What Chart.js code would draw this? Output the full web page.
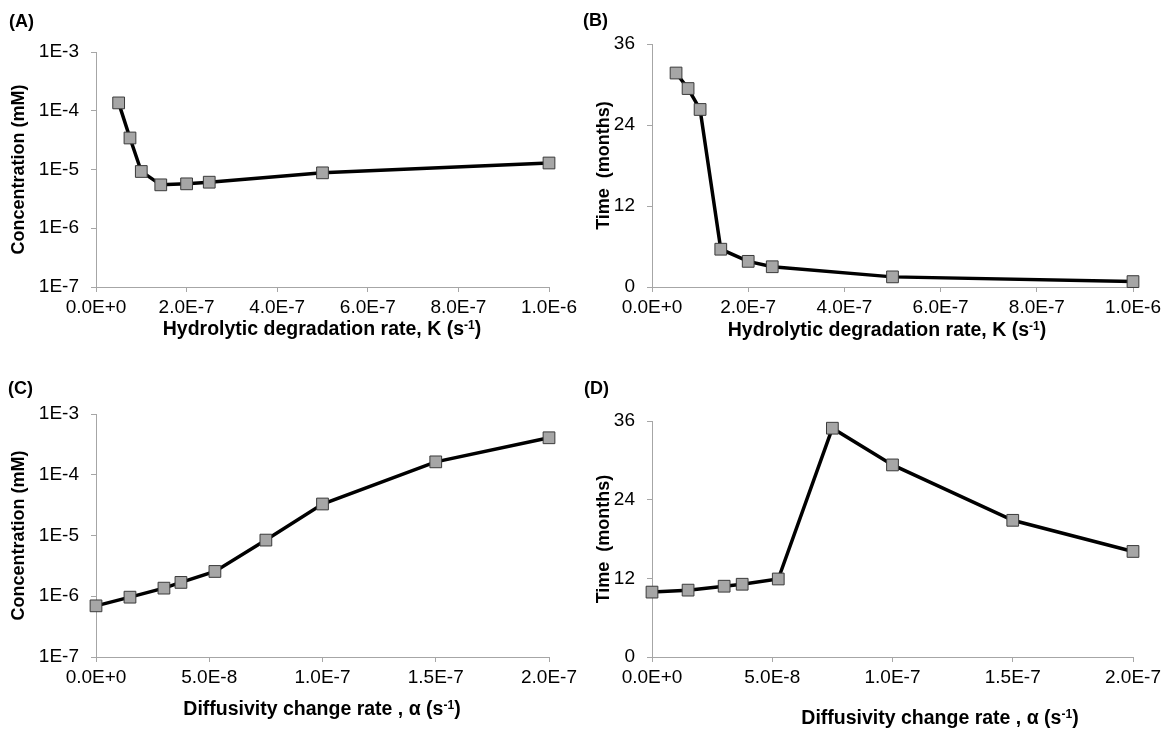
<!DOCTYPE html>
<html>
<head>
<meta charset="utf-8">
<script src="https://cdn.jsdelivr.net/npm/chart.js@4/dist/chart.umd.min.js"></script>
<style>
  html, body { margin:0; padding:0; background:#fff; }
  #wrap { position:relative; width:1169px; height:732px; overflow:hidden; background:#fff; }
  canvas { position:absolute; left:0; top:0; }
  .lbl { position:absolute; font-family:'Liberation Sans', Arial, sans-serif; font-weight:bold; color:#000; white-space:nowrap; line-height:1; }
  .xt { transform:translate(-50%,-50%); font-size:19.5px; }
  .pl { transform:translateY(-50%); font-size:18px; }
  sup { font-size:0.62em; vertical-align:0.55em; line-height:0; }
</style>
</head>
<body>
<div id="wrap">
  <canvas id="cA" width="1169" height="732"></canvas>
  <canvas id="cB" width="1169" height="732"></canvas>
  <canvas id="cC" width="1169" height="732"></canvas>
  <canvas id="cD" width="1169" height="732"></canvas>
  <div class="lbl pl" style="left:9px;top:21px;">(A)</div>
  <div class="lbl pl" style="left:583px;top:20px;">(B)</div>
  <div class="lbl pl" style="left:8px;top:388px;">(C)</div>
  <div class="lbl pl" style="left:584px;top:388px;">(D)</div>
  <div class="lbl xt" style="left:322px;top:329px;">Hydrolytic degradation rate, K (s<sup>-1</sup>)</div>
  <div class="lbl xt" style="left:887px;top:330px;">Hydrolytic degradation rate, K (s<sup>-1</sup>)</div>
  <div class="lbl xt" style="left:322px;top:709px;">Diffusivity change rate , α (s<sup>-1</sup>)</div>
  <div class="lbl xt" style="left:940px;top:718px;">Diffusivity change rate , α (s<sup>-1</sup>)</div>
</div>
<script>
// ---- data ----
const kRates = [5e-8, 7.5e-8, 1e-7, 1.43e-7, 2e-7, 2.5e-7, 5e-7, 1e-6];
const concA = [1.36e-4, 3.44e-5, 9.25e-6, 5.48e-6, 5.7e-6, 6.08e-6, 8.77e-6, 1.29e-5];
const timeB = [31.7, 29.4, 26.3, 5.6, 3.8, 3.0, 1.5, 0.8];

const alphaRates = [0, 1.5e-8, 3e-8, 3.75e-8, 5.25e-8, 7.5e-8, 1e-7, 1.5e-7, 2e-7];
const concC = [6.95e-7, 9.66e-7, 1.36e-6, 1.69e-6, 2.56e-6, 8.4e-6, 3.3e-5, 1.63e-4, 4.06e-4];
const timeD = [9.9, 10.2, 10.8, 11.1, 11.9, 34.9, 29.3, 20.85, 16.1];

const xTicksK = [0, 2e-7, 4e-7, 6e-7, 8e-7, 1e-6];
const xTickLabelsK = ['0.0E+0', '2.0E-7', '4.0E-7', '6.0E-7', '8.0E-7', '1.0E-6'];
const xTicksAlpha = [0, 5e-8, 1e-7, 1.5e-7, 2e-7];
const xTickLabelsAlpha = ['0.0E+0', '5.0E-8', '1.0E-7', '1.5E-7', '2.0E-7'];
const yTicksConc = [1e-7, 1e-6, 1e-5, 1e-4, 1e-3];
const yTickLabelsConc = ['1E-7', '1E-6', '1E-5', '1E-4', '1E-3'];
const yTicksTime = [0, 12, 24, 36];
const yTickLabelsTime = ['0', '12', '24', '36'];

const yTitleConc = 'Concentration (mM)';
const yTitleTime = 'Time  (months)';

// ---- styling ----
const FONT = "'Liberation Sans', Arial, sans-serif";
const AXIS_COLOR = '#a6a6a6';
const W = 1169, H = 732;
const Y_TITLE_SIZE = 18;

function makeChart(id, xs, ys, xTicks, xLabels, yTicks, yLabels, yType, yTitle, box) {
  const titleLH = Y_TITLE_SIZE * 1.2;
  const yAxisLeft = box.titleX - titleLH / 2;
  const yAxisW = box.left - yAxisLeft;
  const xAxisH = 40;
  new Chart(document.getElementById(id), {
    type: 'scatter',
    data: {
      datasets: [{
        data: xs.map((x, i) => ({ x: x, y: ys[i] })),
        showLine: true,
        borderColor: '#000',
        borderWidth: 3.5,
        tension: 0,
        pointStyle: 'rect',
        pointRadius: 8.3,
        pointHoverRadius: 8.3,
        pointBackgroundColor: '#a6a6a6',
        pointBorderColor: '#3a3a3a',
        pointBorderWidth: 1,
        clip: false
      }]
    },
    options: {
      responsive: false,
      animation: false,
      devicePixelRatio: 1,
      events: [],
      layout: {
        padding: { left: yAxisLeft, top: box.top, right: W - box.right, bottom: H - box.bottom - xAxisH }
      },
      plugins: { legend: { display: false }, tooltip: { enabled: false } },
      scales: {
        x: {
          type: 'linear',
          min: xTicks[0],
          max: xTicks[xTicks.length - 1],
          afterBuildTicks: s => { s.ticks = xTicks.map(v => ({ value: v })); },
          afterFit: s => { s.height = xAxisH; },
          ticks: {
            callback: (v, i) => xLabels[i],
            font: { family: FONT, size: 19 },
            color: '#000',
            padding: 4,
            maxRotation: 0,
            autoSkip: false
          },
          grid: { drawOnChartArea: false, drawTicks: true, tickLength: 5, color: AXIS_COLOR, lineWidth: 1 },
          border: { color: AXIS_COLOR, width: 1 }
        },
        y: {
          type: yType,
          min: yTicks[0],
          max: yTicks[yTicks.length - 1],
          afterBuildTicks: s => { s.ticks = yTicks.map(v => ({ value: v })); },
          afterFit: s => { s.width = yAxisW; },
          ticks: {
            callback: (v, i) => yLabels[i],
            font: { family: FONT, size: 19 },
            color: '#000',
            padding: 12,
            autoSkip: false
          },
          grid: { drawOnChartArea: false, drawTicks: true, tickLength: 5, color: AXIS_COLOR, lineWidth: 1 },
          border: { color: AXIS_COLOR, width: 1 },
          title: {
            display: true,
            text: yTitle,
            font: { family: FONT, size: Y_TITLE_SIZE, weight: 'bold' },
            color: '#000',
            padding: { top: 0, bottom: 0 }
          }
        }
      }
    }
  });
}

makeChart('cA', kRates, concA, xTicksK, xTickLabelsK, yTicksConc, yTickLabelsConc, 'logarithmic', yTitleConc,
  { left: 96, right: 549, top: 52, bottom: 287, titleX: 19 });
makeChart('cB', kRates, timeB, xTicksK, xTickLabelsK, yTicksTime, yTickLabelsTime, 'linear', yTitleTime,
  { left: 652, right: 1133, top: 44, bottom: 287, titleX: 604.5 });
makeChart('cC', alphaRates, concC, xTicksAlpha, xTickLabelsAlpha, yTicksConc, yTickLabelsConc, 'logarithmic', yTitleConc,
  { left: 96, right: 549, top: 414, bottom: 657, titleX: 19 });
makeChart('cD', alphaRates, timeD, xTicksAlpha, xTickLabelsAlpha, yTicksTime, yTickLabelsTime, 'linear', yTitleTime,
  { left: 652, right: 1133, top: 421, bottom: 657, titleX: 604.5 });
</script>
</body>
</html>
